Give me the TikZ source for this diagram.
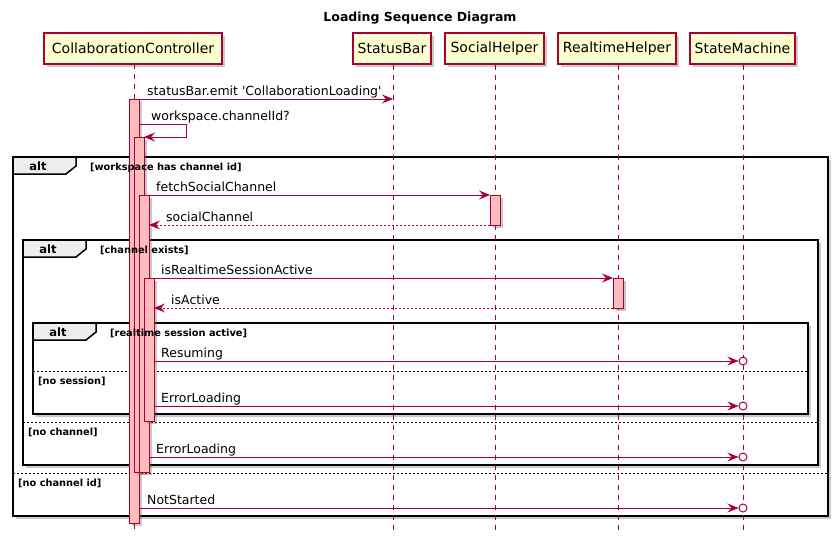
\documentclass[tikz,border=0pt]{standalone}
\usepackage{fontspec}
\newfontfamily\uifont{DejaVu Sans}
\usetikzlibrary{arrows.meta,shadows,calc}
\definecolor{pu}{HTML}{A80036}
\definecolor{pfill}{HTML}{FEFECE}
\definecolor{actfill}{HTML}{FFBCBC}
\definecolor{tabfill}{HTML}{EEEEEE}
\tikzset{
  shd/.style={drop shadow={shadow xshift=3pt,shadow yshift=-3pt,opacity=0.35,fill=black!60}},
  part/.style={draw=pu,line width=1.2pt,fill=pfill,shd,minimum height=31pt,inner sep=0pt,font=\uifont\fontsize{14}{16}\selectfont},
  life/.style={draw=pu,line width=0.8pt,dash pattern=on 5pt off 5pt},
  act/.style={draw=pu,line width=1pt,fill=actfill,shd},
  msg/.style={draw=pu,line width=0.9pt,-{Stealth[length=11pt,width=9pt,inset=4pt]}},
  ret/.style={msg,dash pattern=on 2pt off 2pt},
  lbl/.style={anchor=base west,inner sep=0pt,font=\uifont\fontsize{12.5}{14}\selectfont},
  frm/.style={draw=black,line width=1.8pt,shd,fill=white},
  tab/.style={draw=black,line width=1.5pt,fill=tabfill},
  grd/.style={anchor=base west,inner sep=0pt,font=\uifont\bfseries\fontsize{9.8}{11}\selectfont},
  altl/.style={anchor=base,inner sep=0pt,font=\uifont\bfseries\fontsize{11.5}{13}\selectfont},
  sep/.style={draw=black,line width=0.8pt,dash pattern=on 2pt off 2pt},
  endc/.style={draw=pu,line width=1pt,fill=white,circle,inner sep=0pt,minimum size=8pt}
}
\begin{document}
\begin{tikzpicture}[x=1pt,y=-1pt]
\useasboundingbox (0,0) rectangle (839,544);
% title
\node[font=\uifont\bfseries\fontsize{12.5}{14}\selectfont] (title) at (420,18) {Loading Sequence Diagram};
% participants
\node[part,minimum width=178pt] (cc) at (133,48.5) {CollaborationController};
\node[part,minimum width=78pt] (sb) at (392,48.5) {StatusBar};
\node[part,minimum width=99pt] (sh) at (494.5,48.5) {SocialHelper};
\node[part,minimum width=118pt] (rh) at (617,48.5) {RealtimeHelper};
\node[part,minimum width=105pt] (sm) at (742.5,48.5) {StateMachine};

% frames
\draw[frm] (13,157) rectangle (828,516);
\draw[frm] (23,240) rectangle (818,465);
\draw[frm] (33,323) rectangle (808,414);
% tabs
\draw[tab] (13,157) -- (76,157) -- (76,166) -- (66,174) -- (13,174) -- cycle;
\draw[tab] (23,240) -- (86,240) -- (86,249) -- (76,257) -- (23,257) -- cycle;
\draw[tab] (33,323) -- (96,323) -- (96,332) -- (86,340) -- (33,340) -- cycle;
% separators
\draw[sep] (13,473) -- (828,473);
\draw[sep] (23,422) -- (818,422);
\draw[sep] (33,371) -- (808,371);

% lifelines
\draw[life] (134,64) -- (134,533);
\draw[life] (sb.south -| 393,0) -- (393,533);
\draw[life] (sh.south -| 495,0) -- (495,533);
\draw[life] (rh.south -| 618,0) -- (618,533);
\draw[life] (sm.south -| 743,0) -- (743,533);

% activations
\path[act] (129,99) rectangle (139,523);
\path[act] (134,137) rectangle (144,472);
\path[act] (139,195) rectangle (149,472);
\path[act] (144,278) rectangle (154,421);
\path[act] (490,195) rectangle (500,225);
\path[act] (613,278) rectangle (623,308);

% named points on lifelines
\coordinate (m1s) at (139,99);  \coordinate (m1e) at (393,99);
\coordinate (fs) at (144,195);  \coordinate (fe) at (490,195);
\coordinate (rs) at (490,225);  \coordinate (re) at (149,225);
\coordinate (is) at (149,278);  \coordinate (ie) at (613,278);
\coordinate (as) at (613,308);  \coordinate (ae) at (154,308);
\node[endc] (c1) at (743,361) {};
\node[endc] (c2) at (743,406) {};
\node[endc] (c3) at (743,457) {};
\node[endc] (c4) at (743,508) {};

% messages
\draw[msg] (m1s) -- (m1e);
\node[lbl] (l1) at (147,95) {statusBar.emit 'CollaborationLoading'};
\draw[msg] (139,124) -- (186,124) -- (186,137) -- (144,137);
\node[lbl] (l2) at (151,120) {workspace.channelId?};
\draw[msg] (fs) -- (fe);
\node[lbl] (l3) at (156,191) {fetchSocialChannel};
\draw[ret] (rs) -- (re);
\node[lbl] (l4) at (166,221) {socialChannel};
\draw[msg] (is) -- (ie);
\node[lbl] (l5) at (161,274) {isRealtimeSessionActive};
\draw[ret] (as) -- (ae);
\node[lbl] (l6) at (171,304) {isActive};
\draw[msg] (154,361) -- (c1.west);
\node[lbl] (l7) at (161,357) {Resuming};
\draw[msg] (154,406) -- (c2.west);
\node[lbl] (l8) at (161,402) {ErrorLoading};
\draw[msg] (149,457) -- (c3.west);
\node[lbl] (l9) at (156,453) {ErrorLoading};
\draw[msg] (139,508) -- (c4.west);
\node[lbl] (l10) at (147,504) {NotStarted};

% frame labels
\node[altl] (t1) at (38,170) {alt};
\node[altl] (t2) at (48,253) {alt};
\node[altl] (t3) at (58,336) {alt};
\node[grd] (g1) at (90,170) {[workspace has channel id]};
\node[grd] (g2) at (100,253) {[channel exists]};
\node[grd] (g3) at (110,336) {[realtime session active]};
\node[grd] (g4) at (38,384) {[no session]};
\node[grd] (g5) at (28,435) {[no channel]};
\node[grd] (g6) at (18,486) {[no channel id]};
\end{tikzpicture}
\end{document}
